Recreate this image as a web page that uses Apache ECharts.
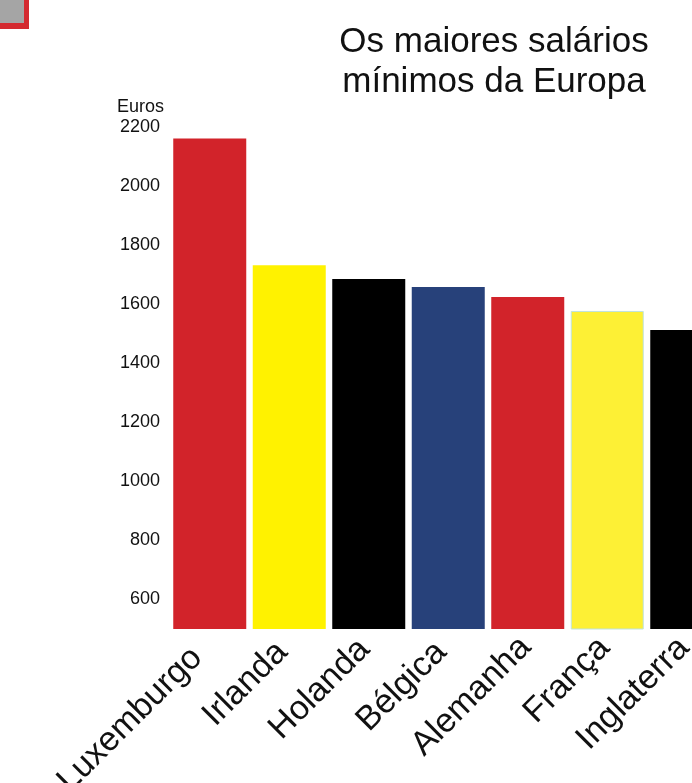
<!DOCTYPE html>
<html><head><meta charset="utf-8">
<script src="https://cdn.jsdelivr.net/npm/echarts@6/dist/echarts.min.js"></script>
<style>html,body{margin:0;padding:0;background:#fff}#c{width:692px;height:783px}</style>
</head><body><div id="c"></div>
<script>
const categories = ['Luxemburgo', 'Irlanda', 'Holanda', 'Bélgica', 'Alemanha', 'França', 'Inglaterra'];
const salarios = [2160, 1731, 1684, 1657, 1623, 1576, 1512];
const barColors = ['#d2232a', '#fff200', '#000000', '#27417a', '#d2232a', '#fdf035', '#000000'];
const yTickLabels = [600, 800, 1000, 1200, 1400, 1600, 1800, 2000, 2200];
const titleLine1 = 'Os maiores salários';
const titleLine2 = 'mínimos da Europa';
const unitText = 'Euros';

// label nudges along the rotated text direction (style only)
const labelPad = [18, 10, 6, 10, 3, 4, 4];

const FONT = "'Liberation Sans', Arial, Helvetica, sans-serif";
const chart = echarts.init(document.getElementById('c'), null, {renderer: 'canvas'});
const titleStyle = {fontFamily: FONT, fontSize: 35, fontWeight: 'normal', color: '#111', lineHeight: 40};
chart.setOption({
  animation: false,
  backgroundColor: '#ffffff',
  title: [
    {text: titleLine1, subtext: titleLine2, left: 494, top: 22, padding: 0, itemGap: 0, textAlign: 'center',
     textStyle: titleStyle, subtextStyle: titleStyle},
    {text: unitText, left: 117, top: 98, padding: 0,
     textStyle: {fontFamily: FONT, fontSize: 18, fontWeight: 'normal', color: '#111'}}
  ],
  graphic: [
    {type: 'rect', shape: {x: 0, y: 0, width: 29, height: 29}, style: {fill: '#d42a30'}},
    {type: 'rect', shape: {x: 0, y: 0, width: 24, height: 23}, style: {fill: '#a5a5a5'}}
  ],
  grid: {left: 170, width: 556.5, top: 97, bottom: 154, outerBoundsMode: 'none', containLabel: false},
  xAxis: {
    type: 'category',
    data: categories.map((c, i) => ({value: c, textStyle: {padding: [0, labelPad[i], 0, 0]}})),
    axisLine: {show: false},
    axisTick: {show: false},
    axisLabel: {rotate: 45, margin: 11, fontFamily: FONT, fontSize: 34, color: '#111', interval: 0}
  },
  yAxis: {
    type: 'value',
    min: 500,
    max: 2300,
    axisLine: {show: false},
    axisTick: {show: false},
    splitLine: {show: false},
    axisLabel: {customValues: yTickLabels, margin: 10, fontFamily: FONT, fontSize: 18, color: '#111',
                formatter: v => String(v)}
  },
  series: [{
    type: 'bar',
    barWidth: 73,
    data: salarios.map((v, i) => ({
      value: v,
      itemStyle: {color: barColors[i], borderColor: i === 5 ? '#bfe3df' : barColors[i], borderWidth: i === 5 ? 1 : 0}
    }))
  }]
});
</script></body></html>
